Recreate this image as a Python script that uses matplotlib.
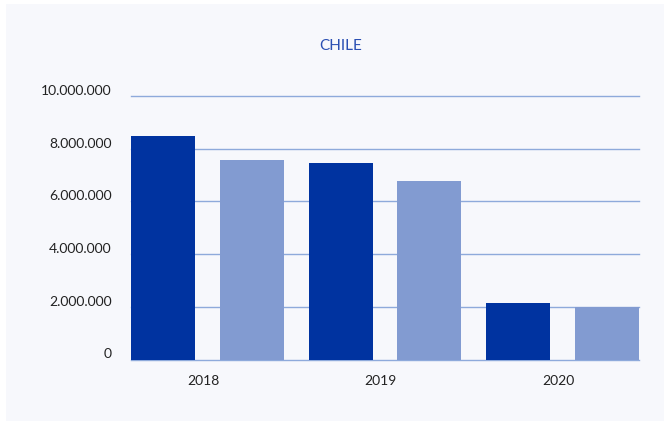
import numpy as np
import matplotlib
matplotlib.use("Agg")
import matplotlib.pyplot as plt
import matplotlib.transforms as mtransforms
from matplotlib.patches import Rectangle
from matplotlib.ticker import FuncFormatter

# ---- data ----
years = ["2018", "2019", "2020"]
serie_a = [8500000, 7440000, 2150000]   # dark blue
serie_b = [7590000, 6790000, 1990000]   # light blue
y_ticks = [0, 2000000, 4000000, 6000000, 8000000, 10000000]
title = "CHILE"

# ---- style ----
dark = "#0033a0"
light = "#829bd1"
grid_col = "#8eaadb"
panel = "#f7f8fc"
txt = "#222222"
plt.rcParams["font.family"] = ["Lato", "DejaVu Sans"]

fig = plt.figure(figsize=(6.69, 4.25), dpi=100)
fig.patch.set_facecolor("white")
fig.patches.append(Rectangle((6 / 669, 4 / 425), 658 / 669, 417 / 425,
                             transform=fig.transFigure, facecolor=panel,
                             edgecolor="none", zorder=-1))

ax = fig.add_axes([131 / 669, 1 - 359.5 / 425, 508 / 669, 263.5 / 425])
ax.set_zorder(2)
ax.set_facecolor(panel)

x = np.arange(len(years)) * 2
w = 0.72
ax.bar(x, serie_a, width=w, color=dark, zorder=3)
ax.bar(x + 1, serie_b, width=w, color=light, zorder=3)

ax.set_xlim(-w / 2, x[-1] + 1 + w / 2)
ax.set_ylim(0, 10000000)
ax.set_yticks(y_ticks)
ax.yaxis.set_major_formatter(FuncFormatter(lambda v, p: f"{int(v):,}".replace(",", ".")))
ax.set_xticks(x + 0.45)
ax.set_xticklabels(years)

for y in y_ticks:
    ax.axhline(y, color=grid_col, lw=1.0, zorder=1, clip_on=False)

for s in ax.spines.values():
    s.set_visible(False)
ax.tick_params(axis="both", length=0, labelsize=10, colors=txt)
ax.tick_params(axis="y", pad=14)
ax.tick_params(axis="x", pad=11)

# y labels sit a bit above their grid lines
off = mtransforms.ScaledTranslation(0, 6 / 100, fig.dpi_scale_trans)
for lab in ax.get_yticklabels():
    lab.set_transform(lab.get_transform() + off)

fig.text(341 / 669, 1 - 46 / 425, title, ha="center", va="center",
         color="#2a4fb3", fontsize=11)

fig.savefig("out.png", dpi=100, facecolor=fig.get_facecolor())
